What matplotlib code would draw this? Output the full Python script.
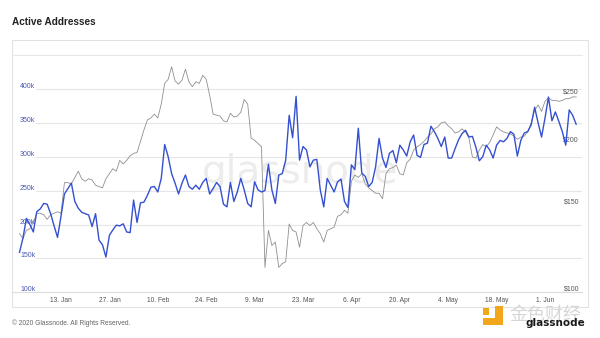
import pandas as pd
import matplotlib
matplotlib.use('Agg')
import matplotlib.pyplot as plt
import matplotlib.dates as mdates
from matplotlib.transforms import offset_copy, blended_transform_factory
from matplotlib.patches import Rectangle
from matplotlib.lines import Line2D

plt.rcParams['font.family'] = ['Liberation Sans', 'DejaVu Sans']

# daily values, 1 Jan 2020 - 10 Jun 2020
dates = pd.date_range('2020-01-01', periods=162, freq='D')

# active addresses (thousands)
active_k = [
    159, 180, 209, 200, 189, 219, 223, 231, 230, 216,
    198, 181, 212, 245, 253, 261, 234, 224, 218, 216,
    214, 197, 216, 177, 170, 152, 184, 192, 199, 198,
    201, 189, 188, 236, 203, 232, 233, 243, 255, 256,
    248, 268, 318, 300, 275, 261, 245, 261, 273, 256,
    252, 258, 252, 262, 268, 245, 253, 262, 256, 230,
    226, 262, 234, 248, 268, 251, 231, 226, 263, 251,
    248, 250, 289, 251, 231, 273, 275, 295, 361, 328,
    389, 295, 315, 310, 285, 295, 296, 251, 226, 268,
    258, 248, 263, 267, 234, 225, 288, 281, 342, 276,
    271, 256, 262, 285, 327, 298, 284, 305, 309, 291,
    317, 310, 301, 322, 332, 302, 299, 318, 320, 345,
    337, 327, 315, 329, 298, 298, 312, 325, 334, 339,
    329, 330, 314, 294, 300, 317, 310, 298, 317, 324,
    322, 327, 337, 333, 301, 324, 335, 337, 347, 373,
    350, 329, 357, 388, 353, 366, 352, 337, 317, 369,
    361, 348,
]

# price (USD)
price = [
    131, 128, 133, 134, 138, 144, 144, 143, 140, 143,
    144, 145, 144, 166, 166, 165, 170, 175, 169, 167,
    169, 168, 164, 163, 162, 169, 173, 177, 175, 184,
    181, 184, 188, 190, 191, 201, 212, 222, 224, 228,
    224, 239, 263, 268, 284, 266, 262, 267, 281, 265,
    259, 265, 263, 273, 268, 249, 228, 227, 226, 221,
    220, 229, 225, 226, 230, 244, 239, 204, 202, 199,
    196, 112, 133, 124, 126, 112, 114, 115, 137, 133,
    132, 123, 136, 138, 136, 138, 134, 131, 126, 133,
    134, 135, 142, 143, 146, 144, 167, 172, 170, 173,
    165, 162, 160, 158, 158, 154, 173, 177, 178, 180,
    173, 172, 182, 185, 193, 196, 198, 201, 205, 208,
    213, 215, 219, 220, 216, 213, 209, 210, 213, 210,
    204, 187, 186, 193, 198, 196, 200, 207, 215, 212,
    210, 209, 208, 206, 203, 205, 206, 210, 219, 232,
    238, 231, 242, 246, 243, 243, 242, 243, 245, 245,
    247, 247,
]

tick_dates = pd.to_datetime(['2020-01-13', '2020-01-27', '2020-02-10', '2020-02-24',
                             '2020-03-09', '2020-03-23', '2020-04-06', '2020-04-20',
                             '2020-05-04', '2020-05-18', '2020-06-01'])
tick_labels = ['13. Jan', '27. Jan', '10. Feb', '24. Feb', '9. Mar', '23. Mar',
               '6. Apr', '20. Apr', '4. May', '18. May', '1. Jun']

left_ticks = [100, 150, 200, 250, 300, 350, 400]
left_labels = ['100k', '150k', '200k', '250k', '300k', '350k', '400k']
grid_levels = [150, 200, 250, 300, 350, 400]
right_ticks = [100, 150, 200, 250]
right_labels = ['$100', '$150', '$200', '$250']

W, H = 600, 338
fig = plt.figure(figsize=(W / 100, H / 100), dpi=100)


def fx(px):
    return px / W


def fy(py):
    return 1 - py / H


grid_c = '#e6e6e6'

# outer panel
fig.patches.append(Rectangle((fx(12), fy(307)), fx(588) - fx(12), fy(40) - fy(307),
                             transform=fig.transFigure, fill=False,
                             ec='#e2e2e2', lw=0.8))
fig.lines.append(Line2D([fx(12), fx(582)], [fy(55), fy(55)],
                        transform=fig.transFigure, color=grid_c, lw=0.8))
fig.lines.append(Line2D([fx(12), fx(582)], [fy(292.3), fy(292.3)],
                        transform=fig.transFigure, color='#dcdcdc', lw=0.8))

ax = fig.add_axes([fx(18), fy(292.3), fx(582) - fx(18), fy(55) - fy(292.3)])
ax.patch.set_alpha(0)
x0 = mdates.date2num(dates[0])
ax.set_xlim(x0 - 0.434, x0 + 162.7)

# price on a log scale (drawn underneath)
ax.set_yscale('log')
ax.set_ylim(99.8, 300)
ax.plot(dates, price, color='#8f8f8f', lw=0.6, zorder=2)

# horizontal gridlines at the address levels
for v in grid_levels:
    f = (v - 100) / 350
    ax.plot([0.032, 1], [f, f], transform=ax.transAxes, color=grid_c, lw=0.8, zorder=0)

ax.text(fx(300), fy(183), 'glassnode', transform=fig.transFigure, fontsize=28,
        family='DejaVu Sans', color='#ececec', ha='center', va='baseline', zorder=0.5)

ax2 = ax.twinx()
ax2.set_ylim(100, 450)
ax2.plot(dates, active_k, color='#3550d0', lw=1.0, zorder=3)

for a in (ax, ax2):
    for s in a.spines.values():
        s.set_visible(False)
    a.yaxis.set_visible(False)

ax.set_xticks(tick_dates)
ax.set_xticklabels(tick_labels)
ax.tick_params(axis='x', length=0, pad=3.2, labelsize=4.8, labelcolor='#555555')
ax.minorticks_off()

# y labels sit inside the plot, just above their levels
lt = offset_copy(blended_transform_factory(ax2.transAxes, ax2.transData),
                 fig=fig, y=0.7, units='points')
for v, lab in zip(left_ticks, left_labels):
    ax2.text(0.0035, v, lab, transform=lt, fontsize=5, color='#4a58b0',
             ha='left', va='baseline', zorder=1)

rt = offset_copy(blended_transform_factory(ax.transAxes, ax.transData),
                 fig=fig, y=0.7, units='points')
for v, lab in zip(right_ticks, right_labels):
    ax.text(0.9947, v, lab, transform=rt, fontsize=5, color='#555555',
            ha='right', va='baseline', zorder=1)

fig.text(fx(12), fy(22), 'Active Addresses', fontsize=7.2, weight='bold',
         color='#222222', va='center')
fig.text(fx(12), fy(323), '\u00a9 2020 Glassnode. All Rights Reserved.', fontsize=4.8,
         color='#666666', va='center')

# corner logos
yel = '#f2a61c'
for (x, y, w, h) in [(483, 308, 6, 7), (495, 306, 8, 19), (483, 318, 20, 7)]:
    fig.patches.append(Rectangle((fx(x), fy(y + h)), w / W, h / H,
                                 transform=fig.transFigure, color=yel, lw=0))
fig.text(fx(509), fy(315), '金色财经', family=['Noto Sans CJK SC', 'DejaVu Sans'],
         fontsize=13, color='#d6d6d6', va='center', ha='left')
fig.text(fx(526), fy(326), 'glassnode', family='DejaVu Sans', fontsize=7.5,
         weight='bold', color='#1a1a1a', va='baseline', ha='left')

fig.savefig('out.png', dpi=100)
